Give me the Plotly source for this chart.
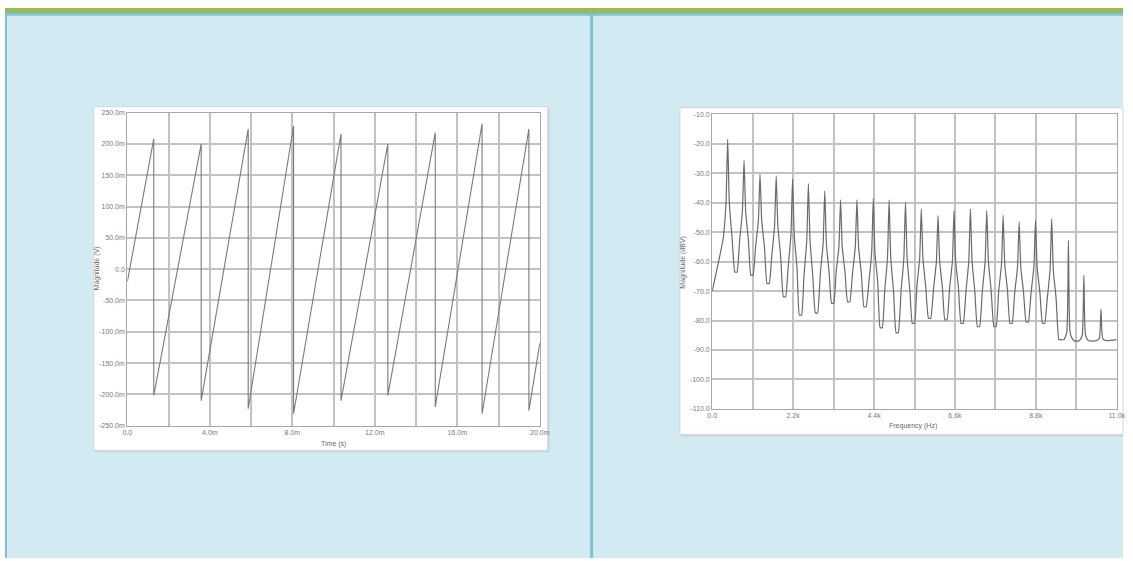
import plotly.graph_objects as go

W, H = 1133, 561

# ---------------- Left chart: sawtooth (time domain) ----------------
saw_start_ms = 0.0
saw_start_mv = -20
saw_drop_ms = [1.28, 3.58, 5.86, 8.06, 10.36, 12.63, 14.93, 17.20, 19.47]
saw_peak_mv = [208, 200, 224, 229, 216, 200, 218, 232, 224]
saw_trough_mv = [-202, -210, -223, -231, -210, -202, -220, -231, -226]
saw_end_ms = 20.0
saw_end_mv = -118

left_xtick_vals = [0, 2, 4, 6, 8, 10, 12, 14, 16, 18, 20]
left_xtick_text = ["0.0", "", "4.0m", "", "8.0m", "", "12.0m", "", "16.0m", "", "20.0m"]
left_ytick_vals = [250, 200, 150, 100, 50, 0, -50, -100, -150, -200, -250]
left_ytick_text = ["250.0m", "200.0m", "150.0m", "100.0m", "50.0m", "0.0",
                   "-50.0m", "-100.0m", "-150.0m", "-200.0m", "-250.0m"]

# ---------------- Right chart: spectrum (frequency domain) ----------------
spec_start_hz, spec_start_db = 0, -70
peak_hz = [420, 865, 1300, 1740, 2185, 2615, 3060, 3490, 3935, 4380, 4810, 5255,
           5685, 6140, 6575, 7020, 7465, 7910, 8345, 8790, 9230, 9685, 10105, 10570]
peak_db = [-18.4, -25.6, -30.4, -30.9, -32.0, -33.5, -36.0, -39.0, -39.0, -38.5, -39.0, -39.8,
           -42.1, -44.4, -42.7, -42.1, -42.7, -44.3, -46.5, -46.1, -45.4, -52.8, -64.7, -76.2]
# skirt levels read beside each spike (close to the spike, and lower down)
shoulder_db = [-40, -43, -46, -48, -51, -53, -54, -55, -55, -57, -59, -59,
               -59, -60, -60, -60, -60, -61, -62, -62, -63, -84, -85, -86]
base_db = [-52, -53, -55, -58, -62, -65, -64, -63.5, -64, -67, -70, -70,
           -68.5, -69, -69, -70, -70, -70, -70.5, -70.5, -72.5, -86.5, -86.8, -86.8]
valley_hz = [645, 1080, 1520, 1965, 2400, 2835, 3275, 3710, 4155, 4595, 5030, 5470,
             5910, 6355, 6795, 7240, 7690, 8125, 8565, 9010, 9455, 9895, 10340]
valley_db = [-63.6, -64.7, -67.5, -72, -78.2, -77.5, -74.2, -73.7, -75.4, -82.5, -84.2, -81,
             -79.3, -79.8, -81, -82.1, -82.1, -81, -80.5, -81, -86.5, -87, -87]
spec_end_hz, spec_end_db = 11000, -86.5
shoulder_off_hz = 45
base_off_hz = 120
valley_half_hz = 30

right_xtick_vals = [0, 1100, 2200, 3300, 4400, 5500, 6600, 7700, 8800, 9900, 11000]
right_xtick_text = ["0.0", "", "2.2k", "", "4.4k", "", "6.6k", "", "8.8k", "", "11.0k"]
right_ytick_vals = [-10, -20, -30, -40, -50, -60, -70, -80, -90, -100, -110]
right_ytick_text = ["-10.0", "-20.0", "-30.0", "-40.0", "-50.0", "-60.0", "-70.0",
                    "-80.0", "-90.0", "-100.0", "-110.0"]

# ---------------- build polylines from the data ----------------
sx, sy = [saw_start_ms], [saw_start_mv]
for t, p, tr in zip(saw_drop_ms, saw_peak_mv, saw_trough_mv):
    sx += [t, t]
    sy += [p, tr]
sx.append(saw_end_ms)
sy.append(saw_end_mv)

fx, fy = [spec_start_hz], [spec_start_db]
for i, (hz, pk, sh, bs) in enumerate(zip(peak_hz, peak_db, shoulder_db, base_db)):
    fx += [hz - base_off_hz, hz - shoulder_off_hz, hz, hz + shoulder_off_hz, hz + base_off_hz]
    fy += [bs, sh, pk, sh, bs]
    if i < len(valley_hz):
        fx += [valley_hz[i] - valley_half_hz, valley_hz[i], valley_hz[i] + valley_half_hz]
        fy += [valley_db[i], valley_db[i], valley_db[i]]
fx.append(spec_end_hz)
fy.append(spec_end_db)


def px_x(x):
    return x / W


def px_y(y):
    return 1 - y / H


fig = go.Figure()
fig.add_trace(go.Scatter(x=sx, y=sy, mode="lines", xaxis="x", yaxis="y",
                         line=dict(color="#7a7a7a", width=1.1), hoverinfo="skip",
                         showlegend=False))
fig.add_trace(go.Scatter(x=fx, y=fy, mode="lines", xaxis="x2", yaxis="y2",
                         line=dict(color="#6a6a6a", width=1.2, shape="spline", smoothing=0.5),
                         hoverinfo="skip", showlegend=False))

tick_font = dict(family="Liberation Sans, Arial, sans-serif", size=7, color="#7a7a7a")
grid_col = "#c2c2c2"
frame_col = "#a8a8a8"

common = dict(showgrid=True, gridcolor=grid_col, gridwidth=1.6, zeroline=False,
              showline=True, linecolor=frame_col, linewidth=1.2, mirror=True,
              ticks="", tickfont=tick_font, fixedrange=True)

fig.update_layout(
    width=W, height=H, margin=dict(l=0, r=0, t=0, b=0),
    paper_bgcolor="#ffffff", plot_bgcolor="#ffffff", showlegend=False,
    xaxis=dict(domain=[px_x(124), px_x(542)], range=[0, 20], anchor="y",
               tickmode="array", tickvals=left_xtick_vals, ticktext=left_xtick_text, **common),
    yaxis=dict(domain=[px_y(427), px_y(110)], range=[-250, 250], anchor="x",
               tickmode="array", tickvals=left_ytick_vals, ticktext=left_ytick_text, **common),
    xaxis2=dict(domain=[px_x(716.7), px_x(1126.7)], range=[0, 11000], anchor="y2",
                tickmode="array", tickvals=right_xtick_vals, ticktext=right_xtick_text, **common),
    yaxis2=dict(domain=[px_y(410), px_y(111.7)], range=[-110, -10], anchor="x2",
                tickmode="array", tickvals=right_ytick_vals, ticktext=right_ytick_text, **common),
)

shapes = []


def rect(x0, y0, x1, y1, fill, line=None, lw=0):
    shapes.append(dict(type="rect", xref="paper", yref="paper", layer="below",
                       x0=px_x(x0), x1=px_x(x1), y0=px_y(y1), y1=px_y(y0),
                       fillcolor=fill, line=dict(color=line or fill, width=lw)))


cell = "#d2eaf1"
blue = "#7ac2d5"
rect(0, 12, W, H, cell)
rect(0, 4, W, 9, "#9bbb59")
rect(0, 9, W, 12, blue)
rect(0, 9, 2, H, blue)
rect(593, 9, 596, H, blue)
# image boxes (with subtle shadow)
rect(91, 106, 552, 454, "#c9d6db")
rect(90, 104, 550, 452, "#ffffff", "#d6d6d6", 1)
rect(685, 107, 1133, 438, "#c9d6db")
rect(684, 105, 1133, 436, "#ffffff", "#d6d6d6", 1)
fig.update_layout(shapes=shapes)

title_font = dict(family="Liberation Sans, Arial, sans-serif", size=7, color="#6a6a6a")
ann = [
    dict(text="Time (s)", x=px_x(333), y=px_y(446), xref="paper", yref="paper",
         showarrow=False, font=title_font, xanchor="center", yanchor="middle"),
    dict(text="Magnitude (V)", x=px_x(93), y=px_y(268), xref="paper", yref="paper",
         showarrow=False, font=title_font, textangle=-90, xanchor="center", yanchor="middle"),
    dict(text="Frequency (Hz)", x=px_x(920), y=px_y(427), xref="paper", yref="paper",
         showarrow=False, font=title_font, xanchor="center", yanchor="middle"),
    dict(text="Magnitude (dBV)", x=px_x(687), y=px_y(261), xref="paper", yref="paper",
         showarrow=False, font=title_font, textangle=-90, xanchor="center", yanchor="middle"),
]
fig.update_layout(annotations=ann)

fig.write_html("out.html")
